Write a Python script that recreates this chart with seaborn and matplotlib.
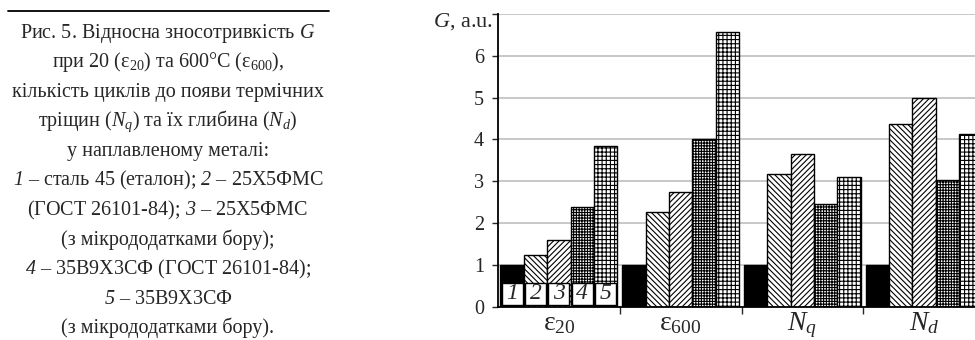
import matplotlib
matplotlib.use("Agg")
import matplotlib.pyplot as plt
from matplotlib.lines import Line2D
from matplotlib.patches import Rectangle
import pandas as pd
import seaborn as sns

# values
categories = ["eps20", "eps600", "Nq", "Nd"]
category_labels = [r"$\mathrm{ε}_{20}$", r"$\mathrm{ε}_{600}$", r"$N_q$", r"$N_d$"]
materials = ["1", "2", "3", "4", "5"]
g_eps20 = [1.0, 1.23, 1.59, 2.38, 3.85]
g_eps600 = [1.0, 2.27, 2.75, 4.02, 6.56]
g_nq = [1.0, 3.18, 3.66, 2.46, 3.10]
g_nd = [1.0, 4.36, 5.00, 3.03, 4.14]
y_ticks = [0, 1, 2, 3, 4, 5, 6, 7]
y_ticklabels = ["0", "1", "2", "3", "4", "5", "6", ""]
y_label = r"$G$, a.u."

# \mathsf is mapped to the italic face so that digits come out italic too
caption = [
    r"Рис. 5. Відносна зносотривкість $G$",
    r"при 20 ($\mathrm{ε}_{20}$) та 600°C ($\mathrm{ε}_{600}$),",
    "кількість циклів до появи термічних",
    r"тріщин ($N_q$) та їх глибина ($N_d$)",
    "у наплавленому металі:",
    r"$\mathsf{1}$ – сталь 45 (еталон); $\mathsf{2}$ – 25Х5ФМС",
    r"(ГОСТ 26101-84); $\mathsf{3}$ – 25Х5ФМС",
    "(з мікрододатками бору);",
    r"$\mathsf{4}$ – 35В9Х3СФ (ГОСТ 26101-84);",
    r"$\mathsf{5}$ – 35В9Х3СФ",
    "(з мікрододатками бору).",
]

sns.set_style("white")
plt.rcParams["font.family"] = ["Liberation Serif", "DejaVu Serif"]
plt.rcParams["mathtext.fontset"] = "custom"
plt.rcParams["mathtext.rm"] = "Liberation Serif"
plt.rcParams["mathtext.it"] = "Liberation Serif:italic"
plt.rcParams["mathtext.sf"] = "Liberation Serif:italic"
plt.rcParams["mathtext.bf"] = "Liberation Serif:bold"
plt.rcParams["hatch.linewidth"] = 0.8

rows = []
for cat, vals in zip(categories, [g_eps20, g_eps600, g_nq, g_nd]):
    for mat, v in zip(materials, vals):
        rows.append({"cat": cat, "mat": mat, "G": v})
df = pd.DataFrame(rows)

fig = plt.figure(figsize=(9.75, 3.4), dpi=100)
ax = fig.add_axes([498 / 975, 1 - 306.7 / 340, 487 / 975, 292.7 / 340])

sns.barplot(data=df, x="cat", y="G", hue="mat", order=categories, hue_order=materials,
            palette=["black", "white", "white", "white", "white"], saturation=1,
            edgecolor="black", linewidth=1.0, width=0.96, legend=False, ax=ax)

hatches = [None, "\\\\\\\\\\\\", "//////", "++++++", "++++"]
for cont, h in zip(ax.containers, hatches):
    for bar in cont:
        bar.set_hatch(h)

# numbered boxes under the first group
for cont, mat in zip(ax.containers, materials):
    bar = cont[0]
    inset = bar.get_width() * 0.05
    ax.add_patch(Rectangle((bar.get_x() + inset, 0.04), bar.get_width() - 2 * inset, 0.53,
                           facecolor="white", edgecolor="black", linewidth=1.0, zorder=5))
    ax.text(bar.get_x() + bar.get_width() / 2, 0.305, mat, ha="center", va="center",
            fontsize=17, style="italic", zorder=6)

ax.set_xlim(-0.5, 3.5)
ax.set_ylim(0, 7)
ax.set_yticks(y_ticks)
ax.set_yticklabels(y_ticklabels)
ax.set_xticks(range(len(categories)))
ax.set_xticklabels(category_labels)
ax.set_xticks([0.5, 1.5, 2.5], minor=True)
ax.set_xlabel("")
ax.set_ylabel("")

ax.yaxis.grid(True, color="#c4c4c4", linewidth=1.3)
ax.set_axisbelow(True)
for s in ["top", "right"]:
    ax.spines[s].set_visible(False)
for s in ["left", "bottom"]:
    ax.spines[s].set_color("black")
    ax.spines[s].set_linewidth(1.3)

ax.tick_params(axis="y", length=4, width=1, pad=6, labelsize=14.5, left=True)
ax.tick_params(axis="x", which="major", length=0, pad=17, labelsize=20)
ax.tick_params(axis="x", which="minor", length=5, width=1, direction="out", bottom=True)
for lab in ax.get_xticklabels():
    lab.set_va("baseline")

fig.text(493 / 975, 1 - 22 / 340, y_label, ha="right", va="center", fontsize=16)

# caption on the left
fig.add_artist(Line2D([8 / 975, 329 / 975], [1 - 11 / 340, 1 - 11 / 340],
                      color="black", linewidth=1.3))
for i, line in enumerate(caption):
    fig.text(168 / 975, 1 - (38 + 29.5 * i) / 340, line, ha="center", va="baseline",
             fontsize=14.5)

fig.savefig("out.png", dpi=100)
